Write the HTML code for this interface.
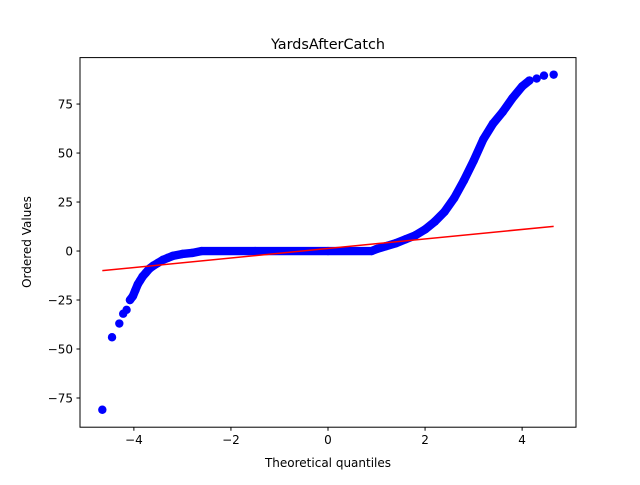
<!DOCTYPE html>
<html><head><meta charset="utf-8"><style>
body{margin:0;background:#fff;font-family:"Liberation Sans","DejaVu Sans",sans-serif;}
svg text{font-family:"DejaVu Sans","Liberation Sans",sans-serif;}
</style></head><body>
<svg id="chart" width="640" height="480" viewBox="0 0 640 480" xmlns="http://www.w3.org/2000/svg">
<rect width="640" height="480" fill="#fff"/>
<text x="328" y="49" font-size="14.4" text-anchor="middle">YardsAfterCatch</text>
<text x="328" y="467" font-size="12" text-anchor="middle">Theoretical quantiles</text>
<text x="0" y="0" font-size="12" text-anchor="middle" transform="translate(31,242) rotate(-90)">Ordered Values</text>
<g id="plot"></g>
<rect x="80" y="57.6" width="496" height="369.6" fill="none" stroke="#000" stroke-width="1"/>
</svg>
<script>
const quantiles=[-4.65,-4.45,-4.3,-4.22,-4.15,-4.08,-4.02,-3.97,-3.92,-3.87,-3.82,-3.75,-3.68,-3.6,-3.5,-3.4,-3.3,-3.2,-3.0,-2.8,-2.6,-1.5,0,0.9,1.0,1.2,1.4,1.6,1.8,2.0,2.2,2.4,2.6,2.8,3.0,3.2,3.4,3.6,3.8,4.0,4.15,4.3,4.45,4.65];
const values=[-81,-44,-37,-32,-30,-25,-23,-20,-17,-15,-13,-11,-9,-7.5,-6,-4.5,-3.5,-2.5,-1.5,-1,0,0,0,0,1,2.5,4,6,8,11,15,20,27,36,46,57,65,71,78,84,87,88,89.5,90];
const fitX=[-4.65,4.65];
const fitY=[-10,12.6];
const xTicks=[-4,-2,0,2,4];
const yTicks=[-75,-50,-25,0,25,50,75];
const X0=80,X1=576,Y0=427.2,Y1=57.6,xmin=-5.11,xmax=5.11,ymin=-89.9,ymax=98.7;
const sx=v=>X0+(v-xmin)/(xmax-xmin)*(X1-X0);
const sy=v=>Y0-(v-ymin)/(ymax-ymin)*(Y0-Y1);
const NS="http://www.w3.org/2000/svg";
const svg=document.getElementById('chart'),g=document.getElementById('plot');
function mk(t,a,p){const e=document.createElementNS(NS,t);for(const k in a)e.setAttribute(k,a[k]);(p||g).appendChild(e);return e;}
// dense band only where points are packed (between sparse tails)
const denseIdx=quantiles.map((q,i)=>i).filter(i=>quantiles[i]>=-4.1&&quantiles[i]<=4.2);
let d=denseIdx.map((i,k)=>(k?'L':'M')+sx(quantiles[i])+' '+sy(values[i])).join(' ');
const band=mk('path',{d:d,fill:'none',stroke:'#0000ff','stroke-width':8.4,'stroke-linejoin':'round','stroke-linecap':'round'});


quantiles.forEach((q,i)=>{
  const c=mk('circle',{cx:sx(q),cy:sy(values[i]),r:4.2,fill:'#0000ff'});
  
  
});
const ln=mk('line',{x1:sx(fitX[0]),y1:sy(fitY[0]),x2:sx(fitX[1]),y2:sy(fitY[1]),stroke:'#ff0000','stroke-width':1.5});


xTicks.forEach(t=>{
  const x=sx(t);
  const tk=mk('line',{x1:x,y1:Y0,x2:x,y2:Y0+3.5,stroke:'#000'},svg);
  
  
  const tx=mk('text',{x:x,y:Y0+17,'font-size':12,'text-anchor':'middle'},svg);
  tx.textContent=(t<0?'\u2212'+(-t):t);
  
  
});
yTicks.forEach(t=>{
  const y=sy(t);
  const tk=mk('line',{x1:X0-3.5,y1:y,x2:X0,y2:y,stroke:'#000'},svg);
  
  
  const tx=mk('text',{x:X0-7,y:y+4.3,'font-size':12,'text-anchor':'end'},svg);
  tx.textContent=(t<0?'\u2212'+(-t):t);
  
  
});
</script>
</body></html>
